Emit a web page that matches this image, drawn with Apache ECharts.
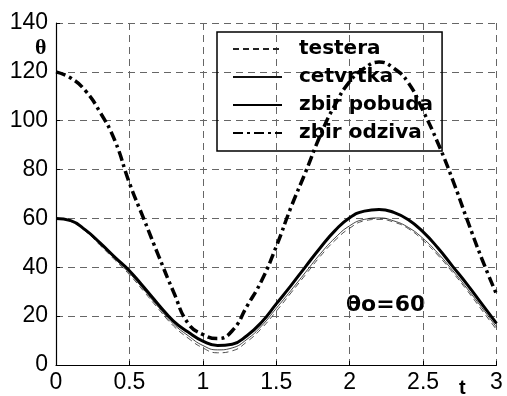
<!DOCTYPE html>
<html>
<head>
<meta charset="utf-8">
<script src="https://cdn.jsdelivr.net/npm/echarts@6/dist/echarts.min.js"></script>
<style>
  html, body { margin: 0; padding: 0; background: #fff; }
  #chart { width: 507px; height: 396px; }
</style>
</head>
<body>
<div id="chart"></div>
<script>
// vrijeme t
const tValues = [0, 0.1, 0.2, 0.3, 0.4, 0.5, 0.6, 0.7, 0.8, 0.9, 1.0,
  1.1, 1.2, 1.3, 1.4, 1.5, 1.6, 1.7, 1.8, 1.9, 2.0,
  2.1, 2.2, 2.3, 2.4, 2.5, 2.6, 2.7, 2.8, 2.9, 3.0];

const testera = [60, 58.8, 54.8, 49, 43, 37, 30, 22.8, 16, 11, 7,
  5, 5.8, 9.5, 15, 22, 29.5, 37, 44.5, 51, 56,
  59, 59.6, 58.5, 55.8, 51, 45, 38, 30.5, 22.5, 14.5];

const cetvrtka = [60, 59, 55, 49.4, 43.5, 37.6, 30.7, 23.5, 16.8, 12, 8,
  6.2, 7, 10.5, 16, 23.2, 30.5, 38, 45.5, 52, 57,
  59.6, 60.2, 59, 56.3, 51.8, 45.8, 38.8, 31.3, 23.5, 15.5];

const zbirPobuda = [60, 59.1, 55.3, 50, 44.2, 38.6, 31.7, 24.6, 18, 13.5, 9.8,
  8, 8.5, 12, 17.5, 25, 32.5, 40.3, 48, 55, 60.3,
  63, 63.7, 62.5, 59.5, 54.5, 48, 40.5, 33, 25, 17];

const zbirOdziva = [120, 117.5, 112.3, 103.5, 92, 74.5, 59.5, 44.5, 30, 17, 12.5,
  10.8, 14, 24, 34.5, 48.5, 64.5, 79, 94, 106.5, 116,
  121.5, 124, 121.5, 115.5, 104, 91, 76, 59.5, 43.5, 29];

const xTicks = [0, 0.5, 1, 1.5, 2, 2.5, 3];
const yTicks = [0, 20, 40, 60, 80, 100, 120, 140];

const toPairs = vals => tValues.map((t, i) => [t, vals[i]]);

const myChart = echarts.init(document.getElementById('chart'));

const gridLine = { show: true, lineStyle: { color: '#666', type: [7, 5], width: 1 } };

const option = {
  animation: false,
  grid: { left: 56, top: 23, right: 10.5, bottom: 31 },
  xAxis: {
    type: 'value',
    min: xTicks[0],
    max: xTicks[xTicks.length - 1],
    interval: 0.5,
    axisLine: { lineStyle: { color: '#000', width: 1.2 } },
    axisTick: { inside: true, length: 4, lineStyle: { color: '#000' } },
    axisLabel: { color: '#000', fontSize: 23, fontFamily: 'Liberation Sans', margin: 6 },
    splitLine: gridLine
  },
  yAxis: {
    type: 'value',
    min: yTicks[0],
    max: yTicks[yTicks.length - 1],
    interval: 20,
    axisLine: { show: true, lineStyle: { color: '#000', width: 1.2 } },
    axisTick: { show: true, inside: true, length: 4, lineStyle: { color: '#000' } },
    axisLabel: { color: '#000', fontSize: 23, fontFamily: 'Liberation Sans', margin: 8 },
    splitLine: gridLine
  },
  legend: {
    orient: 'vertical',
    left: 217,
    top: 32,
    padding: [7, 9, 8, 15],
    itemGap: 8,
    itemWidth: 49,
    itemHeight: 12,
    borderColor: '#000',
    borderWidth: 1.5,
    itemStyle: { opacity: 0 },
    textStyle: {
      color: '#000',
      fontSize: 20,
      fontWeight: 'bold',
      fontFamily: 'DejaVu Sans',
      lineHeight: 20,
      padding: [0, 0, 0, 12]
    },
    data: ['testera', 'cetvrtka', 'zbir pobuda', 'zbir odziva']
  },
  graphic: [
    { type: 'text', left: 35, top: 37, style: { text: 'θ', fontSize: 22, fontWeight: 'bold', fontFamily: 'Liberation Serif', fill: '#000' } },
    { type: 'text', left: 459, top: 378, style: { text: 't', fontSize: 20, fontWeight: 'bold', fontFamily: 'Liberation Sans', fill: '#000' } },
    { type: 'text', left: 346, top: 294, style: { text: 'θo=60', fontSize: 22, fontWeight: 'bold', fontFamily: 'DejaVu Sans', fill: '#000' } }
  ],
  series: [
    {
      name: 'testera', type: 'line', smooth: true, symbol: 'none',
      data: toPairs(testera),
      itemStyle: { color: '#000' },
      lineStyle: { color: '#222', width: 0.8, type: [6, 4] }
    },
    {
      name: 'cetvrtka', type: 'line', smooth: true, symbol: 'none',
      data: toPairs(cetvrtka),
      itemStyle: { color: '#000' },
      lineStyle: { color: '#111', width: 0.8 }
    },
    {
      name: 'zbir pobuda', type: 'line', smooth: true, symbol: 'none',
      data: toPairs(zbirPobuda),
      itemStyle: { color: '#000' },
      lineStyle: { color: '#000', width: 3 }
    },
    {
      name: 'zbir odziva', type: 'line', smooth: true, symbol: 'none',
      data: toPairs(zbirOdziva),
      itemStyle: { color: '#000' },
      lineStyle: { color: '#000', width: 3.5, type: [10, 4, 3, 4] }
    }
  ]
};

myChart.setOption(option);
</script>
</body>
</html>
